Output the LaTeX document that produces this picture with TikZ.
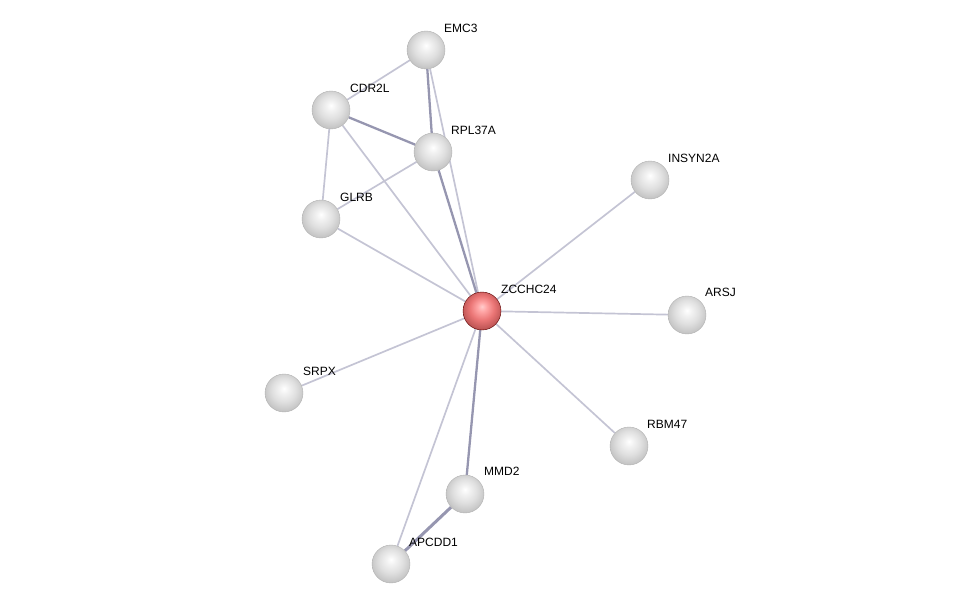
\documentclass[tikz,border=0pt]{standalone}
\usepackage{fontspec}
\setmainfont{Liberation Sans}
\usetikzlibrary{backgrounds}
\definecolor{edgecol}{RGB}{196,196,212}
\definecolor{edgedark}{RGB}{150,150,176}
\pgfdeclareradialshading{greyball}{\pgfpoint{0bp}{6bp}}{color(0bp)=(white); color(6bp)=(gray!10); color(16bp)=(gray!25); color(26bp)=(gray!45); color(34bp)=(gray!62); color(50bp)=(gray!75)}
\pgfdeclareradialshading{redball}{\pgfpoint{0bp}{6bp}}{color(0bp)=(red!20!white); color(6bp)=(red!35!white); color(16bp)=(red!50!white!92!black); color(26bp)=(red!55!white!75!black); color(34bp)=(red!55!black); color(50bp)=(red!40!black)}
\tikzset{
  protein/.style={circle,minimum size=38pt,inner sep=0pt,shading=greyball,draw=gray!60,line width=0.4pt},
  query/.style={circle,minimum size=38pt,inner sep=0pt,shading=redball,draw=red!35!black,line width=0.4pt},
  lbl/.style={anchor=west,font=\fontsize{12}{14}\selectfont,inner sep=1pt},
  link/.style={draw=edgecol,line width=1.7pt},
  strong/.style={draw=edgedark,line width=2.3pt},
}
\begin{document}
\begin{tikzpicture}[x=1pt,y=-1pt]
  \useasboundingbox (0,0) rectangle (976,610);
  % proteins
  \node[protein] (emc3) at (426,50) {};
  \node[protein] (cdr2l) at (331,110) {};
  \node[protein] (rpl37a) at (433,152) {};
  \node[protein] (glrb) at (321,219) {};
  \node[protein] (insyn2a) at (650,180) {};
  \node[query] (zcchc24) at (482,311) {};
  \node[protein] (arsj) at (687,315) {};
  \node[protein] (srpx) at (284,393) {};
  \node[protein] (rbm47) at (629,446) {};
  \node[protein] (mmd2) at (465,494) {};
  \node[protein] (apcdd1) at (391,564) {};
  % labels
  \node[lbl] at (443,28) {EMC3};
  \node[lbl] at (349,88) {CDR2L};
  \node[lbl] at (450,130) {RPL37A};
  \node[lbl] at (339,197) {GLRB};
  \node[lbl] at (667,158) {INSYN2A};
  \node[lbl] at (500,289) {ZCCHC24};
  \node[lbl] at (704,292) {ARSJ};
  \node[lbl] at (302,371) {SRPX};
  \node[lbl] at (646,424) {RBM47};
  \node[lbl] at (483,471) {MMD2};
  \node[lbl] at (408,542) {APCDD1};
  % edges
  \begin{pgfonlayer}{background}
    \draw[link] (emc3) -- (cdr2l);
    \draw[link] (emc3) -- (zcchc24);
    \draw[strong] (emc3) -- (rpl37a);
    \draw[strong] (cdr2l) -- (rpl37a);
    \draw[link] (cdr2l) -- (glrb);
    \draw[link] (cdr2l) -- (zcchc24);
    \draw[link] (rpl37a) -- (glrb);
    \draw[strong] (rpl37a) -- (zcchc24);
    \draw[link] (glrb) -- (zcchc24);
    \draw[link] (insyn2a) -- (zcchc24);
    \draw[link] (arsj) -- (zcchc24);
    \draw[link] (srpx) -- (zcchc24);
    \draw[link] (rbm47) -- (zcchc24);
    \draw[strong] (mmd2) -- (zcchc24);
    \draw[link] (apcdd1) -- (zcchc24);
    \draw[strong,line width=3pt] (apcdd1) -- (mmd2);
  \end{pgfonlayer}
\end{tikzpicture}
\end{document}
